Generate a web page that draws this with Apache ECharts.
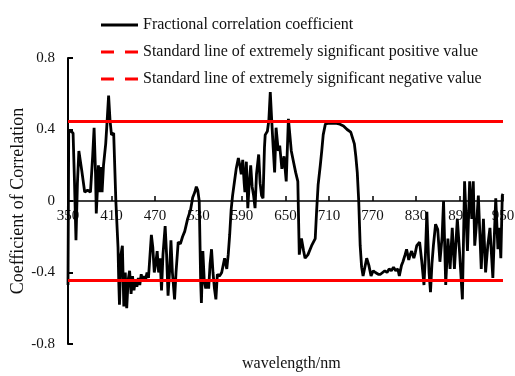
<!DOCTYPE html>
<html>
<head>
<meta charset="utf-8">
<script src="https://cdn.jsdelivr.net/npm/echarts@6/dist/echarts.min.js"></script>
<style>
  html, body { margin: 0; padding: 0; background: #fff; }
  #chart { width: 515px; height: 376px; }
</style>
</head>
<body>
<div id="chart"></div>
<script>
// Spectral band positions (nm) and the fractional-order correlation coefficient at each
const wavelengths = [
  350, 351, 354, 357, 359, 361, 363, 365, 369, 373, 377, 381, 384, 386, 388, 389, 391, 392, 394, 396,
  397, 399, 402, 404, 406, 408, 410, 413, 416, 419, 420, 421, 423, 425, 427, 429, 431, 433, 435, 437,
  439, 441, 443, 445, 447, 449, 451, 453, 455, 457, 459, 461, 463, 465, 467, 469, 471, 473, 475, 477,
  479, 481, 484, 486, 488, 490, 492, 494, 497, 499, 502, 505, 508, 511, 515, 519, 522, 525, 527, 529,
  531, 533, 534, 536, 538, 540, 542, 544, 546, 548, 550, 552, 554, 556, 559, 562, 566, 569, 571, 573,
  575, 577, 580, 582, 585, 587, 589, 591, 593, 594, 596, 598, 600, 602, 604, 606, 608, 610, 613, 615,
  617, 619, 621, 622, 625, 627, 629, 631, 633, 635, 637, 640, 642, 645, 648, 651, 654, 658, 661, 664,
  667, 669, 672, 675, 677, 681, 686, 691, 693, 695, 698, 700, 702, 705, 709, 714, 719, 725, 730, 735,
  740, 742, 745, 747, 749, 751, 753, 755, 757, 759, 762, 765, 768, 771, 774, 778, 781, 784, 787, 790,
  793, 796, 799, 802, 805, 807, 810, 812, 815, 817, 820, 822, 824, 827, 829, 831, 835, 838, 841, 843,
  845, 848, 850, 852, 854, 857, 860, 863, 866, 868, 871, 874, 877, 880, 883, 887, 890, 894, 897, 901,
  904, 907, 909, 911, 914, 916, 920, 923, 926, 929, 932, 936, 938, 940, 943, 945, 947, 949, 950
];
const coefficients = [
  -0.47, 0.39, 0.39, 0.38, 0.10, -0.22, 0.10, 0.28, 0.17, 0.05, 0.06, 0.05, 0.25, 0.41, 0.15, -0.07, 0.10, 0.20, 0.05, 0.19,
  0.05, 0.20, 0.32, 0.45, 0.59, 0.45, 0.37, 0.38, 0.00, -0.26, -0.45, -0.58, -0.30, -0.25, -0.59, -0.40, -0.60, -0.44, -0.39, -0.52,
  -0.42, -0.50, -0.44, -0.48, -0.43, -0.47, -0.41, -0.45, -0.42, -0.44, -0.40, -0.43, -0.31, -0.19, -0.26, -0.40, -0.35, -0.28, -0.40, -0.32,
  -0.50, -0.30, -0.14, -0.30, -0.53, -0.40, -0.22, -0.40, -0.55, -0.40, -0.23, -0.24, -0.20, -0.17, -0.10, -0.05, 0.02, 0.05, 0.08, 0.06,
  0.00, -0.45, -0.57, -0.28, -0.45, -0.49, -0.45, -0.49, -0.35, -0.27, -0.40, -0.49, -0.55, -0.41, -0.42, -0.40, -0.32, -0.38, -0.30, -0.19,
  -0.05, 0.03, 0.12, 0.18, 0.24, 0.20, 0.15, 0.23, 0.10, 0.05, 0.22, -0.04, 0.10, 0.20, 0.08, 0.03, -0.04, 0.15, 0.26, 0.10,
  0.03, 0.015, 0.30, 0.37, 0.39, 0.45, 0.61, 0.45, 0.30, 0.16, 0.41, 0.28, 0.31, 0.18, 0.25, 0.11, 0.46, 0.28, 0.22, 0.16,
  0.11, -0.30, -0.21, -0.28, -0.32, -0.30, -0.25, -0.21, -0.05, 0.09, 0.20, 0.28, 0.37, 0.43, 0.435, 0.435, 0.435, 0.43, 0.42, 0.40,
  0.385, 0.38, 0.32, 0.25, 0.16, 0.00, -0.25, -0.37, -0.42, -0.43, -0.32, -0.36, -0.42, -0.39, -0.40, -0.41, -0.41, -0.40, -0.39, -0.40,
  -0.38, -0.39, -0.37, -0.39, -0.38, -0.42, -0.36, -0.34, -0.30, -0.27, -0.33, -0.30, -0.28, -0.32, -0.29, -0.25, -0.23, -0.34, -0.47, -0.30,
  -0.06, -0.40, -0.51, -0.35, -0.25, -0.13, -0.16, -0.34, -0.20, 0.00, -0.47, -0.21, -0.38, -0.15, -0.38, -0.10, -0.28, -0.55, 0.11, -0.28,
  0.11, -0.10, 0.11, -0.25, -0.10, 0.03, -0.38, -0.10, -0.40, -0.25, -0.15, -0.43, -0.20, 0.015, -0.27, -0.15, -0.32, 0.03, 0.04
];

// Extremely significant thresholds
const positiveThreshold = 0.445;
const negativeThreshold = -0.445;
const bandRange = [350, 950];

const xTicks = { min: 350, max: 950, interval: 60 };
const yTicks = { min: -0.8, max: 0.8, interval: 0.4 };

const seriesNames = [
  'Fractional correlation coefficient',
  'Standard line of extremely significant positive value',
  'Standard line of extremely significant negative value'
];

const serif = "'Liberation Serif', 'Times New Roman', serif";
const curve = wavelengths.map((w, i) => [w, coefficients[i]]);
const thresholdLine = v => bandRange.map(w => [w, v]);

// plot box: top 58, bottom 344 -> zero line sits half-way, 143 px above the bottom edge
const gridTop = 58, gridBottomPx = 344;
const zeroShift = -(gridBottomPx - (gridTop + gridBottomPx) / 2);

const chart = echarts.init(document.getElementById('chart'), null, { renderer: 'canvas' });
chart.setOption({
  animation: false,
  backgroundColor: '#fff',
  grid: { left: 68, right: 12, top: gridTop, bottom: 376 - gridBottomPx, containLabel: false, outerBoundsMode: 'none' },
  legend: {
    orient: 'vertical',
    left: 101,
    top: 16,
    padding: 0,
    itemWidth: 37,
    itemHeight: 3,
    itemGap: 9,
    textStyle: { fontFamily: serif, fontSize: 16, color: '#111', lineHeight: 18 },
    data: [
      { name: seriesNames[0], icon: 'path://M0,0H37V3H0Z' },
      { name: seriesNames[1], icon: 'path://M0,0H13V3H0Z M24,0H37V3H24Z' },
      { name: seriesNames[2], icon: 'path://M0,0H13V3H0Z M24,0H37V3H24Z' }
    ]
  },
  xAxis: {
    type: 'value',
    position: 'bottom',
    offset: zeroShift,
    min: xTicks.min, max: xTicks.max, interval: xTicks.interval,
    axisLine: { onZero: false, lineStyle: { color: '#000', width: 1.5 } },
    axisTick: { inside: true, length: 5, lineStyle: { color: '#000', width: 1.5 } },
    axisLabel: { fontFamily: serif, fontSize: 15, color: '#111', margin: 8 },
    splitLine: { show: false }
  },
  yAxis: {
    type: 'value',
    min: yTicks.min, max: yTicks.max, interval: yTicks.interval,
    name: 'Coefficient of Correlation',
    nameLocation: 'middle',
    nameGap: 41,
    nameMoveOverlap: false,
    nameTextStyle: { fontFamily: serif, fontSize: 18, color: '#111' },
    axisLine: { show: true, lineStyle: { color: '#000', width: 2 } },
    axisTick: { show: true, inside: true, length: 5, lineStyle: { color: '#000', width: 2 } },
    axisLabel: { fontFamily: serif, fontSize: 15, color: '#111', margin: 13,
      formatter: v => (Math.abs(v) < 1e-9 ? '0' : String(Math.round(v * 10) / 10)) },
    splitLine: { show: false }
  },
  graphic: [{
    type: 'text',
    left: 242,
    top: 356,
    style: { text: 'wavelength/nm', font: "16px 'Liberation Serif', 'Times New Roman', serif", fill: '#111' }
  }],
  series: [
    {
      name: seriesNames[0], type: 'line', data: curve, symbol: 'none',
      color: '#000', lineStyle: { color: '#000', width: 2.8 }
    },
    {
      name: seriesNames[1], type: 'line', data: thresholdLine(positiveThreshold), symbol: 'none',
      color: '#ff0000', lineStyle: { color: '#ff0000', width: 3 }
    },
    {
      name: seriesNames[2], type: 'line', data: thresholdLine(negativeThreshold), symbol: 'none',
      color: '#ff0000', lineStyle: { color: '#ff0000', width: 3 }
    }
  ]
});
</script>
</body>
</html>
